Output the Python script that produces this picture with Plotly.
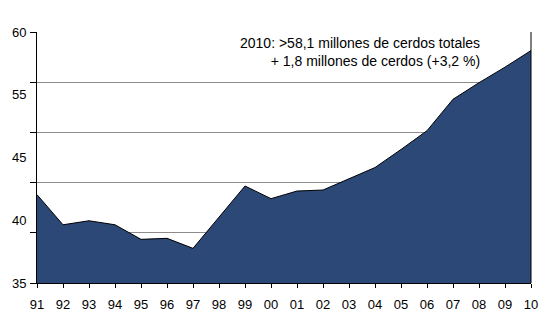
import plotly.graph_objects as go

years = ["91", "92", "93", "94", "95", "96", "97", "98", "99", "00",
         "01", "02", "03", "04", "05", "06", "07", "08", "09", "10"]
pigs = [43.8, 40.8, 41.2, 40.8, 39.35, 39.45, 38.45, 41.55, 44.66, 43.4,
        44.16, 44.26, 45.36, 46.5, 48.3, 50.17, 53.3, 54.95, 56.5, 58.15]
y_labels = ["35", "40", "45", "55", "60"]
note = "2010: >58,1 millones de cerdos totales<br>+ 1,8 millones de cerdos (+3,2 %)"

xs = list(range(len(years)))
font = dict(family="Liberation Sans, Arial, sans-serif", size=13, color="black")
note_font = dict(family="Liberation Sans, Arial, sans-serif", size=14, color="black")

fig = go.Figure()
fig.add_trace(go.Scatter(
    x=xs, y=pigs, mode="lines", fill="tozeroy",
    fillcolor="#2C4876", line=dict(color="black", width=1),
    hoverinfo="skip", showlegend=False,
))

n = len(y_labels)
label_annotations = [
    dict(text=lab, xref="paper", yref="paper", x=0, y=i / (n - 1),
         xanchor="right", yanchor="middle", xshift=-9, showarrow=False, font=font)
    for i, lab in enumerate(y_labels)
]

fig.update_layout(
    width=550, height=333,
    margin=dict(l=37, r=13, t=32, b=50),
    paper_bgcolor="white", plot_bgcolor="white",
    font=font,
    xaxis=dict(
        range=[0, len(years) - 1], tickvals=xs, ticktext=years,
        ticks="outside", ticklen=4, tickcolor="black", tickwidth=1,
        showline=True, linecolor="black", linewidth=1,
        showgrid=False, zeroline=False, tickfont=font, ticklabelstandoff=5,
    ),
    yaxis=dict(
        range=[35, 60], dtick=5, showticklabels=False,
        ticks="outside", ticklen=6, tickcolor="black", tickwidth=1,
        showline=True, linecolor="black", linewidth=1, mirror=False,
        showgrid=True, gridcolor="#8c8c8c", gridwidth=1, zeroline=False,
    ),
    annotations=label_annotations + [dict(
        text=note, xref="paper", yref="paper", x=0.9, y=0.995,
        xanchor="right", yanchor="top", align="right", showarrow=False,
        font=note_font,
    )],
    shapes=[dict(type="line", xref="paper", yref="paper", x0=1, x1=1, y0=0, y1=1,
                 line=dict(color="black", width=1))],
)

fig.write_html("out.html")
